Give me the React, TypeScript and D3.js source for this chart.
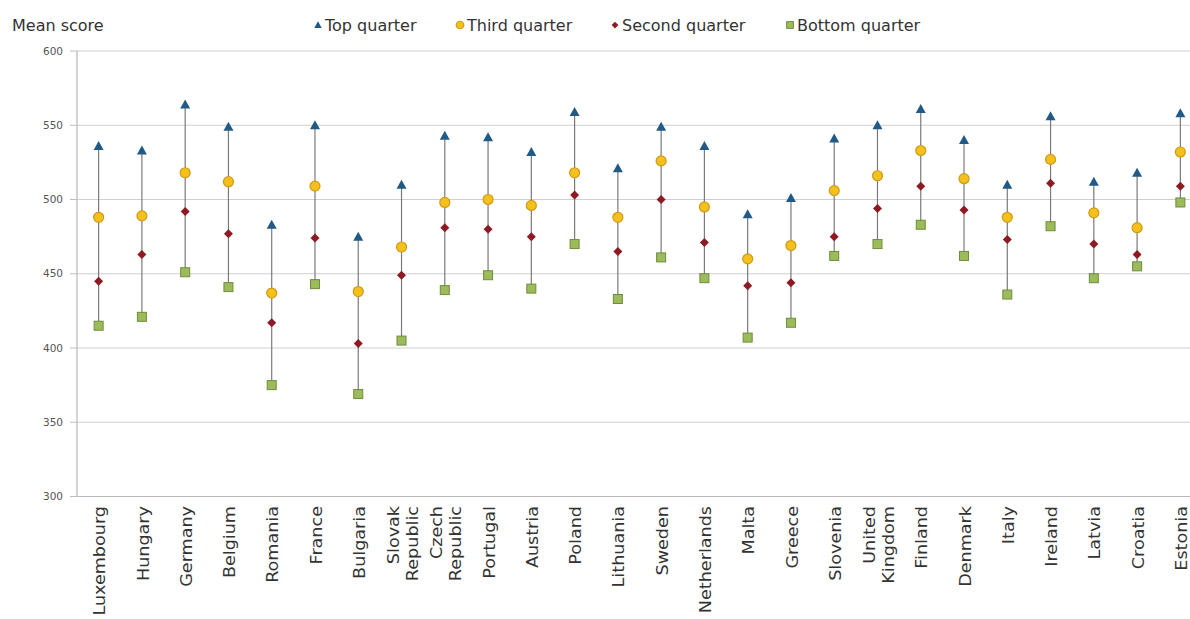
import React from "react";
import * as d3 from "d3";

const countries = [
  "Luxembourg", "Hungary", "Germany", "Belgium", "Romania", "France", "Bulgaria",
  "Slovak\nRepublic", "Czech\nRepublic", "Portugal", "Austria", "Poland", "Lithuania",
  "Sweden", "Netherlands", "Malta", "Greece", "Slovenia", "United\nKingdom", "Finland",
  "Denmark", "Italy", "Ireland", "Latvia", "Croatia", "Estonia",
];
const topQuarter = [536, 533, 564, 549, 483, 550, 475, 510, 543, 542, 532, 559, 521, 549, 536, 490, 501, 541, 550, 561, 540, 510, 556, 512, 518, 558];
const thirdQuarter = [488, 489, 518, 512, 437, 509, 438, 468, 498, 500, 496, 518, 488, 526, 495, 460, 469, 506, 516, 533, 514, 488, 527, 491, 481, 532];
const secondQuarter = [445, 463, 492, 477, 417, 474, 403, 449, 481, 480, 475, 503, 465, 500, 471, 442, 444, 475, 494, 509, 493, 473, 511, 470, 463, 509];
const bottomQuarter = [415, 421, 451, 441, 375, 443, 369, 405, 439, 449, 440, 470, 433, 461, 447, 407, 417, 462, 470, 483, 462, 436, 482, 447, 455, 498];
const yTicks = [300, 350, 400, 450, 500, 550, 600];
const seriesNames = ["Top quarter", "Third quarter", "Second quarter", "Bottom quarter"];

const W = 1190;
const H = 619;
const left = 77;
const right = 1202;
const top = 51;
const bottom = 496.5;

const COL = {
  tri: "#215a86",
  circFill: "#f3c01c",
  circStroke: "#d19a16",
  dia: "#8e1b24",
  sqFill: "#9cbb5a",
  sqStroke: "#6f8c3b",
};

function Marker({ kind, x, y, s = 1 }: { kind: string; x: number; y: number; s?: number }) {
  if (kind === "tri") {
    const w = 5 * s, h = 9 * s;
    return <path d={`M${x},${y - h / 2 - 0.5}L${x + w},${y + h / 2 - 0.5}L${x - w},${y + h / 2 - 0.5}Z`} fill={COL.tri} />;
  }
  if (kind === "circ") {
    return <circle cx={x} cy={y} r={5 * s} fill={COL.circFill} stroke={COL.circStroke} strokeWidth={1.2} />;
  }
  if (kind === "dia") {
    const r = 4.5 * s;
    return <path d={`M${x},${y - r}L${x + r},${y}L${x},${y + r}L${x - r},${y}Z`} fill={COL.dia} />;
  }
  const h = 4.5 * s;
  return <rect x={x - h} y={y - h} width={2 * h} height={2 * h} fill={COL.sqFill} stroke={COL.sqStroke} strokeWidth={1} />;
}

export default function App() {
  const x = d3.scaleBand<string>().domain(countries).range([left, right]).padding(0);
  const y = d3.scaleLinear().domain([300, 600]).range([bottom, top]);
  const cx = (c: string) => (x(c) as number) + x.bandwidth() / 2;

  const legend = [
    { kind: "tri", mx: 318, tx: 325, label: seriesNames[0] },
    { kind: "circ", mx: 460, tx: 467, label: seriesNames[1] },
    { kind: "dia", mx: 615, tx: 622, label: seriesNames[2] },
    { kind: "sq", mx: 790, tx: 797, label: seriesNames[3] },
  ];

  return (
    <svg width={W} height={H} style={{ position: "absolute", left: 0, top: 0, background: "#fff" }}
      fontFamily="'DejaVu Sans', Verdana, sans-serif">
      <text x={12} y={31} fontSize={16} fill="#333">Mean score</text>
      {legend.map((l) => (
        <g key={l.label}>
          <Marker kind={l.kind} x={l.mx} y={25} s={0.75} />
          <text x={l.tx} y={31} fontSize={16} fill="#333">{l.label}</text>
        </g>
      ))}
      {yTicks.map((t) => (
        <g key={t}>
          <line x1={left} x2={right} y1={y(t)} y2={y(t)} stroke={t === 300 ? "#b8b8b8" : "#cfcfcf"} strokeWidth={1.2} />
          <line x1={left - 7} x2={left} y1={y(t)} y2={y(t)} stroke="#bdbdbd" strokeWidth={1} />
          <text x={63} y={y(t)} dy="0.35em" textAnchor="end" fontSize={10.5} fill="#555">{t}</text>
        </g>
      ))}
      <line x1={left} x2={left} y1={top} y2={bottom} stroke="#c4c4c4" strokeWidth={1.5} />
      {countries.map((c, i) => (
        <g key={c}>
          <line x1={cx(c)} x2={cx(c)} y1={y(topQuarter[i])} y2={y(bottomQuarter[i])} stroke="#7a7a7a" strokeWidth={1.2} />
          <Marker kind="tri" x={cx(c)} y={y(topQuarter[i])} />
          <Marker kind="circ" x={cx(c)} y={y(thirdQuarter[i])} />
          <Marker kind="dia" x={cx(c)} y={y(secondQuarter[i])} />
          <Marker kind="sq" x={cx(c)} y={y(bottomQuarter[i])} />
        </g>
      ))}
      {countries.map((c) => {
        const lines = c.split("\n");
        const off = -((lines.length - 1) * 19) / 2;
        return (
          <g key={"l" + c} transform={`translate(${cx(c) + 1},506) scale(1,1.1) rotate(-90)`}>
            {lines.map((ln, k) => (
              <text key={k} x={0} y={off + k * 19} dy="0.35em" textAnchor="end" fontSize={16} fill="#333">{ln}</text>
            ))}
          </g>
        );
      })}
    </svg>
  );
}
